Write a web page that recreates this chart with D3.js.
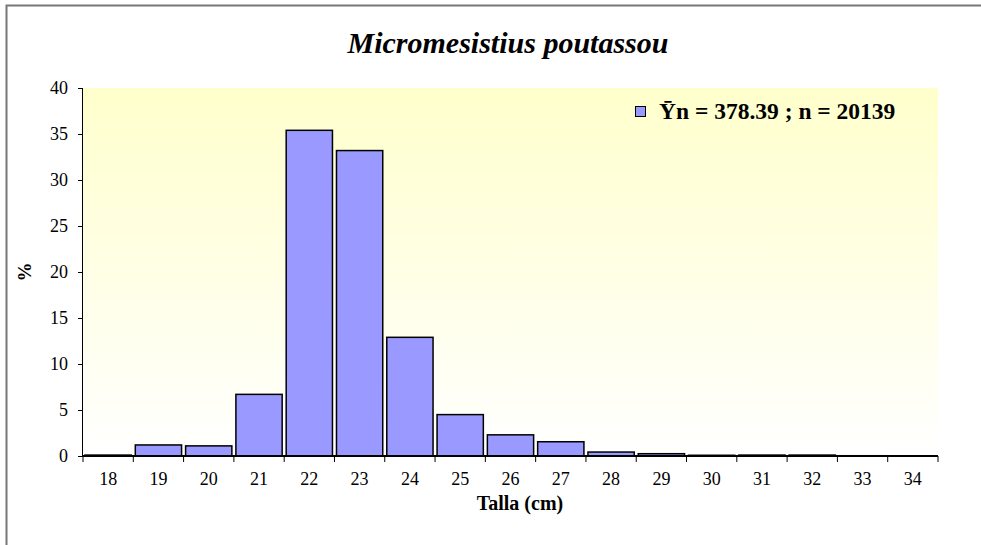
<!DOCTYPE html>
<html>
<head>
<meta charset="utf-8">
<script src="https://cdn.jsdelivr.net/npm/d3@7"></script>
<style>
body { margin: 0; background: #fff; }
svg text { font-family: "Liberation Serif", "Times New Roman", serif !important; fill: #000; }
</style>
</head>
<body>
<svg id="chart"></svg>
<script>
var width = 981;
var height = 545;

// talla (cm) and percentage
var tallas = ["18","19","20","21","22","23","24","25","26","27","28","29","30","31","32","33","34"];
var pct = [0.1, 1.2, 1.1, 6.7, 35.4, 33.2, 12.9, 4.5, 2.3, 1.55, 0.43, 0.25, 0.08, 0.1, 0.1, 0.03, 0.02];
var yTicks = [0, 5, 10, 15, 20, 25, 30, 35, 40];
var titulo = "Micromesistius poutassou";
var leyenda = "\u0232n = 378.39 ; n = 20139";

var margin = {left: 83, top: 88, right: 43, bottom: 89};

var svg = d3.select("#chart").attr("width", width).attr("height", height);

// outer frame (only top/left visible in the crop)
svg.append("path")
    .attr("d", "M6.5," + height + "V5.5H" + width)
    .attr("fill", "none")
    .attr("stroke", "#777")
    .attr("stroke-width", 2);

var x = d3.scaleBand()
    .domain(tallas)
    .range([margin.left, width - margin.right])
    .paddingInner(0.08)
    .paddingOuter(0.04);

var y = d3.scaleLinear()
    .domain([0, 40])
    .range([height - margin.bottom, margin.top]);

var grad = svg.append("defs").append("linearGradient")
    .attr("id", "fondo")
    .attr("x1", 0).attr("y1", 0).attr("x2", 0).attr("y2", 1);
grad.append("stop").attr("offset", "0%").attr("stop-color", "#ffffcc");
grad.append("stop").attr("offset", "100%").attr("stop-color", "#ffffff");

svg.append("rect")
    .attr("x", margin.left)
    .attr("y", margin.top)
    .attr("width", width - margin.right - margin.left)
    .attr("height", height - margin.bottom - margin.top)
    .attr("fill", "url(#fondo)");

svg.append("g")
    .selectAll("rect")
    .data(pct)
    .enter().append("rect")
    .attr("x", function(d, i) { return x(tallas[i]); })
    .attr("y", function(d) { return y(d); })
    .attr("width", x.bandwidth())
    .attr("height", function(d) { return y(0) - y(d); })
    .attr("fill", "#9999ff")
    .attr("stroke", "#000")
    .attr("stroke-width", 1.5);

// y axis
var yAxis = svg.append("g")
    .attr("transform", "translate(" + margin.left + ",0)")
    .call(d3.axisLeft(y).tickValues(yTicks).tickSize(5).tickPadding(10));
yAxis.select(".domain").attr("stroke", "#000").attr("d", "M-0.5," + y(0) + "V" + y(40));
yAxis.selectAll("text").attr("font-size", 18);

// x axis, ticks at band boundaries
var xAxis = svg.append("g")
    .attr("transform", "translate(0," + y(0) + ")")
    .call(d3.axisBottom(x).tickSize(0).tickPadding(16));
xAxis.select(".domain").attr("stroke", "#000").attr("stroke-width", 2)
    .attr("d", "M" + margin.left + ",0H" + (width - margin.right));
xAxis.selectAll("text").attr("font-size", 18);

var bounds = d3.range(tallas.length + 1).map(function(i) { return margin.left + i * (width - margin.right - margin.left) / tallas.length; });
xAxis.selectAll(".bnd")
    .data(bounds)
    .enter().append("line")
    .attr("class", "bnd")
    .attr("x1", function(d) { return d; })
    .attr("x2", function(d) { return d; })
    .attr("y1", 0).attr("y2", 6)
    .attr("stroke", "#000");

// title
svg.append("text")
    .attr("x", 508)
    .attr("y", 53)
    .attr("text-anchor", "middle")
    .attr("font-size", 30)
    .attr("font-weight", "bold")
    .attr("font-style", "italic")
    .text(titulo);

// axis titles
svg.append("text")
    .attr("x", 520)
    .attr("y", 510)
    .attr("text-anchor", "middle")
    .attr("font-size", 20)
    .attr("font-weight", "bold")
    .text("Talla (cm)");

svg.append("text")
    .attr("transform", "translate(31," + ((y(0) + y(40)) / 2) + ") rotate(-90)")
    .attr("text-anchor", "middle")
    .attr("font-size", 19)
    .attr("font-weight", "bold")
    .text("%");

// legend
var leg = svg.append("g").attr("transform", "translate(635,106)");
leg.append("rect")
    .attr("x", 0.5).attr("y", 0.5)
    .attr("width", 10).attr("height", 10)
    .attr("fill", "#9999ff")
    .attr("stroke", "#000");
leg.append("text")
    .attr("x", 24)
    .attr("y", 13)
    .attr("font-size", 23.5)
    .attr("font-weight", "bold")
    .text(leyenda);
</script>
</body>
</html>
